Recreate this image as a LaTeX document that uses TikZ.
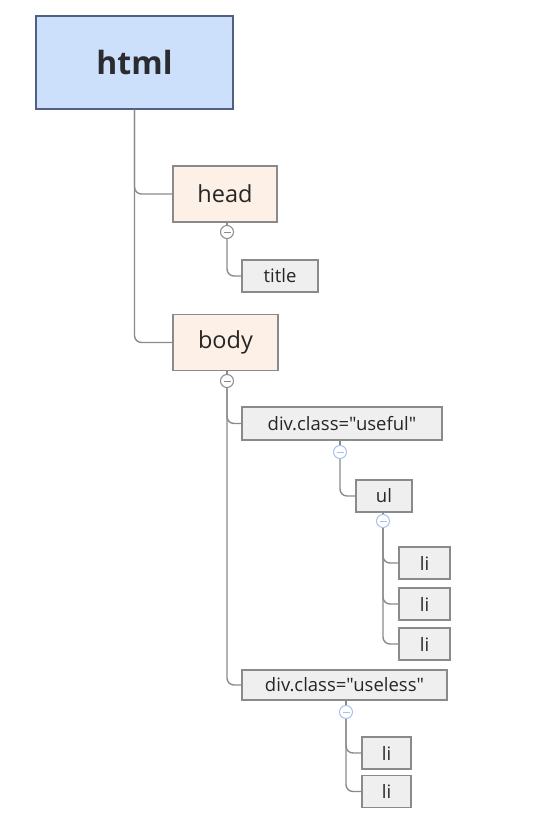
\documentclass[tikz,border=0pt]{standalone}
\usepackage{fontspec}
\setmainfont{Open Sans}[Ligatures=TeXOff]
\usepackage{xcolor}
\usetikzlibrary{positioning,calc}
\definecolor{rootFill}{HTML}{CCDFFB}
\definecolor{rootLine}{HTML}{4F5F86}
\definecolor{secFill}{HTML}{FDF1E7}
\definecolor{leafFill}{HTML}{EFEFEF}
\definecolor{boxLine}{HTML}{8A8A8A}
\definecolor{linkGray}{HTML}{8A8A8A}
\definecolor{txtDark}{HTML}{262626}
\definecolor{knobBlue}{HTML}{A9C1EE}

\begin{document}
\begin{tikzpicture}[x=1pt,y=-1pt,
  rootbox/.style={draw=rootLine,fill=rootFill,line width=1.2pt,minimum width=197pt,
    minimum height=93pt,inner sep=0pt,text=txtDark!90!rootLine,font=\fontsize{32}{35}\selectfont\bfseries},
  secbox/.style={draw=boxLine,fill=secFill,line width=1.2pt,minimum height=56pt,
    inner sep=0pt,text=txtDark,font=\fontsize{23.5}{26}\selectfont},
  leafbox/.style={draw=boxLine,fill=leafFill,line width=1.2pt,minimum height=32pt,
    inner sep=0pt,text=txtDark,font=\fontsize{18.5}{21}\selectfont},
  knob/.style={circle,draw=#1,fill=white,line width=1pt,minimum size=13pt,inner sep=0pt,
    path picture={\draw[#1,line width=1pt] ([xshift=-3.5pt]path picture bounding box.center)
      -- ([xshift=3.5pt]path picture bounding box.center);}},
  knob/.default=linkGray,
  link/.style={draw=linkGray,line width=1.4pt,rounded corners=7pt}]
\useasboundingbox (0,0) rectangle (541,839);
% --- boxes ---
\node[rootbox] (html) at (134.5,62.5) {html};
\node[secbox,minimum width=104pt] (head) at (225,194) {head};
\node[leafbox,minimum width=76pt] (title) at (280,276) {title};
\node[secbox,minimum width=105pt] (body) at (225.5,342.5) {body};
\node[leafbox,minimum width=200pt,minimum height=33pt] (useful) at (342,423.5) {div.class="useful"};
\node[leafbox,minimum width=56pt] (ul) at (384,496) {ul};
\foreach \y [count=\i] in {563,604,644}
  \node[leafbox,minimum width=51pt] (li\i) at (424.5,\y) {li};
\node[leafbox,minimum width=205pt,minimum height=30pt] (useless) at (344.5,685) {div.class="useless"};
\node[leafbox,minimum width=49pt] (li4) at (386.5,753) {li};
\node[leafbox,minimum width=49pt] (li5) at (386.5,791.5) {li};
% --- collapse knobs ---
\node[knob] (kHead) at (227,232) {};
\node[knob] (kBody) at (227,381) {};
\node[knob=knobBlue] (kUseful) at (340,452) {};
\node[knob=knobBlue] (kUl) at (383,521) {};
\node[knob=knobBlue] (kUseless) at (346,712) {};
% --- links ---
\draw[link] (html.south) |- (head.west);
\draw[link] (html.south) |- (body.west);
\draw[link] (kHead.north) -- (kHead.north|-head.south);
\draw[link] (kHead.south) |- (title.west);
\draw[link] (kBody.north) -- (kBody.north|-body.south);
\draw[link] (kBody.south) |- (useful.west);
\draw[link] (kBody.south) |- (useless.west);
\draw[link] (kUseful.north) -- (kUseful.north|-useful.south);
\draw[link] (kUseful.south) |- (ul.west);
\draw[link] (kUl.north) -- (kUl.north|-ul.south);
\foreach \i in {1,2,3}
  \draw[link] (kUl.south) |- (li\i.west);
\draw[link] (kUseless.north) -- (kUseless.north|-useless.south);
\draw[link] (kUseless.south) |- (li4.west);
\draw[link] (kUseless.south) |- (li5.west);
\end{tikzpicture}
\end{document}
